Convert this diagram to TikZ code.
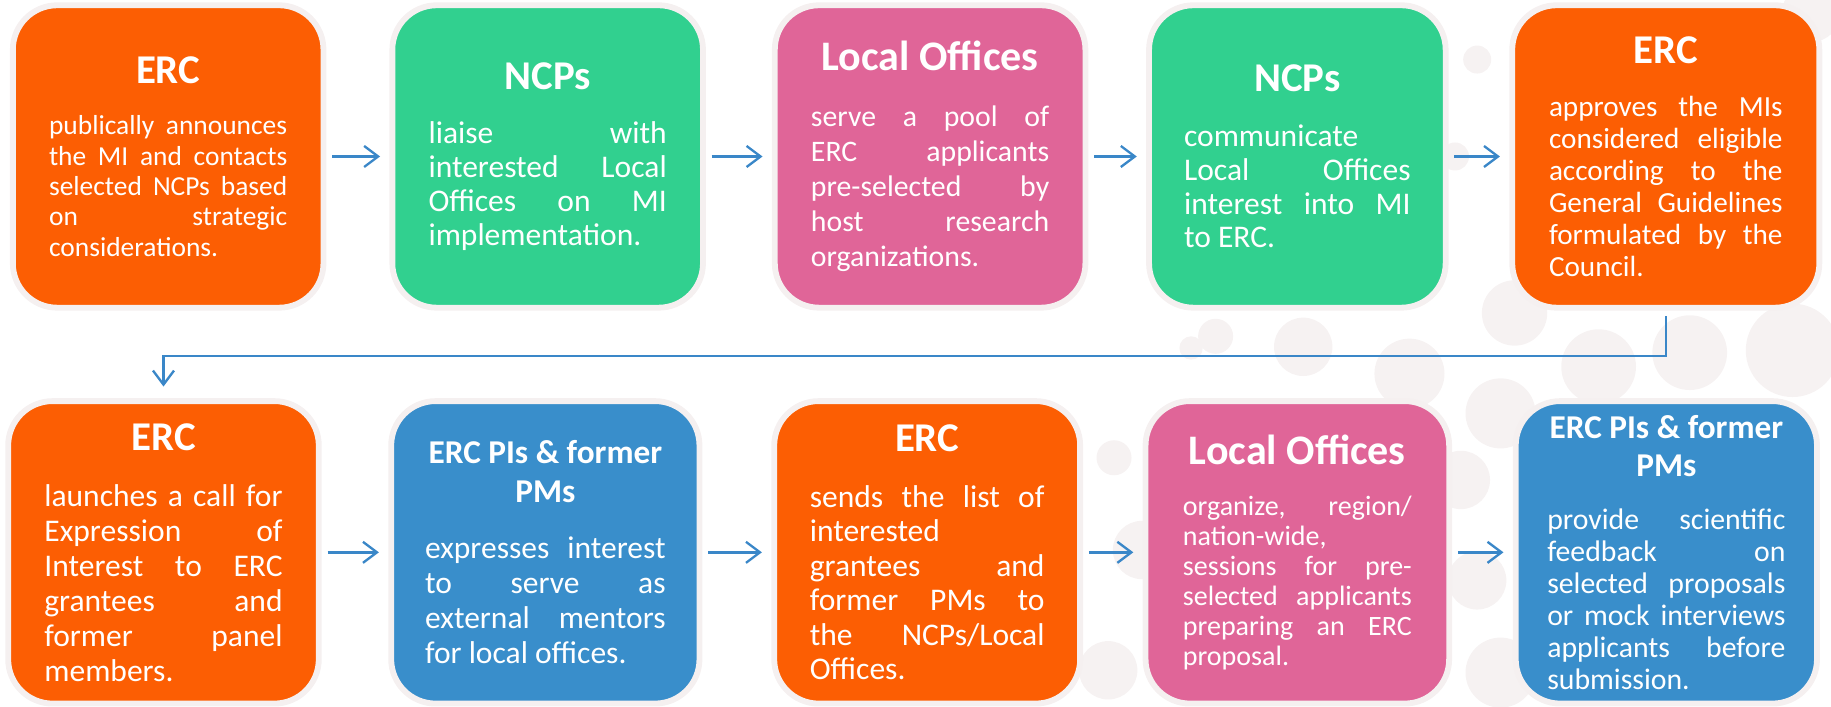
\documentclass[tikz,border=0pt]{standalone}
\usepackage{fontspec}
\setmainfont{Carlito}
\usepackage{xcolor}
\usepackage{tikz}
\usetikzlibrary{arrows.meta}

\definecolor{ercorange}{HTML}{FC5E03}
\definecolor{ncpgreen}{HTML}{31D08F}
\definecolor{officepink}{HTML}{E06598}
\definecolor{piblue}{HTML}{398ECB}
\definecolor{arrowblue}{HTML}{3A87C8}
\definecolor{halo}{HTML}{F5F0F0}
\definecolor{bubble}{HTML}{F6F2F2}

\tolerance=10000
\hbadness=10000
\hyphenpenalty=10000
\exhyphenpenalty=10000

\newcommand\boxtitle[2][35]{{\centering\fontsize{#1}{33}\selectfont\bfseries #2\par}\vspace{18pt}}
\newcommand\boxbody[3]{\fontsize{#1}{#2}\selectfont #3\par}

\tikzset{
  stepbox/.style={draw=halo, line width=5pt, rounded corners=38pt, text=white,
    inner sep=0pt, minimum width=266pt, minimum height=259pt, text width=204pt,
    align=justify},
  flow/.style={draw=arrowblue, line width=2pt, -{Straight Barb[length=12pt,width=18pt]},
    shorten <=5pt, shorten >=8pt}
}

\begin{document}
\begin{tikzpicture}[x=1pt,y=-1pt]
\useasboundingbox (0,0) rectangle (1568,605);

% background bubbles
\foreach \cx/\cy/\r in {1265/51/12, 1551/11/25, 1246/134/12, 1020/298/10, 1041/288/15,
  1116/297/25, 1207/320/30, 1297/268/28, 1369/314/32, 1447/302/32, 1535/300/40,
  954/392/15, 978/471/25, 949/574/25, 1285/354/30, 1251/411/25, 1265/497/25, 1285/576/30}
  \fill [bubble] (\cx,\cy) circle [radius=\r];

% top row
\node [stepbox, fill=ercorange] (erc1) at (144,134)
  {\boxtitle{ERC}\boxbody{23.5}{26}{publically announces\linebreak the MI and contacts\linebreak selected NCPs based\linebreak on strategic\linebreak considerations.}};
\node [stepbox, fill=ncpgreen] (ncp1) at (469,134)
  {\boxtitle{NCPs}\boxbody{27}{29}{liaise with\linebreak interested Local\linebreak Offices on MI\linebreak implementation.}};
\node [stepbox, fill=officepink] (office1) at (796.5,134)
  {\boxtitle[36]{Local Offices}\boxbody{25.5}{30}{serve a pool of\linebreak ERC applicants\linebreak pre-selected by\linebreak host research\linebreak organizations.}};
\node [stepbox, fill=ncpgreen, minimum width=254pt, text width=194pt] (ncp2) at (1111,134)
  {\boxtitle{NCPs}\boxbody{27}{29}{communicate\linebreak Local Offices\linebreak interest into MI\linebreak to ERC.}};
\node [stepbox, fill=ercorange, minimum width=263pt, text width=200pt] (erc2) at (1426.5,134)
  {\boxtitle{ERC}\boxbody{25}{27.4}{approves the MIs\linebreak considered eligible\linebreak according to the\linebreak General Guidelines\linebreak formulated by the\linebreak Council.}};

% bottom row
\node [stepbox, fill=ercorange] (erc3) at (140,473)
  {\boxtitle{ERC}\boxbody{27}{30}{launches a call for\linebreak Expression of\linebreak Interest to ERC\linebreak grantees and\linebreak former panel\linebreak members.}};
\node [stepbox, fill=piblue, minimum width=264pt, text width=206pt] (pis1) at (467,473)
  {\boxtitle[28.5]{ERC PIs \& former\\PMs}\boxbody{27}{30}{expresses interest\linebreak to serve as\linebreak external mentors\linebreak for local offices.}};
\node [stepbox, fill=ercorange, minimum width=262pt, text width=201pt] (erc4) at (794,473)
  {\boxtitle{ERC}\boxbody{27}{29.5}{sends the list of\linebreak interested\linebreak grantees and\linebreak former PMs to\linebreak the NCPs/Local\linebreak Offices.}};
\node [stepbox, fill=officepink, minimum width=260pt, text width=196pt] (office2) at (1111,473)
  {\boxtitle[36]{Local Offices}\boxbody{24}{25.7}{organize, region/\linebreak nation-wide,\linebreak sessions for pre-\linebreak selected applicants\linebreak preparing an ERC\linebreak proposal.}};
\node [stepbox, fill=piblue, minimum width=258pt] (pis2) at (1427,473)
  {\boxtitle[28.5]{ERC PIs \& former\\PMs}\boxbody{25.5}{27.4}{provide scientific\linebreak feedback on\linebreak selected proposals\linebreak or mock interviews\linebreak applicants before\linebreak submission.}};

% arrows
\draw [flow] (erc1) -- (ncp1);
\draw [flow] (ncp1) -- (office1);
\draw [flow] (office1) -- (ncp2);
\draw [flow] (ncp2) -- (erc2);
\draw [flow, shorten >=10pt] (erc2.south) -- ++(0,39) -| (erc3.north);
\draw [flow] (erc3) -- (pis1);
\draw [flow] (pis1) -- (erc4);
\draw [flow] (erc4) -- (office2);
\draw [flow] (office2) -- (pis2);
\end{tikzpicture}
\end{document}
